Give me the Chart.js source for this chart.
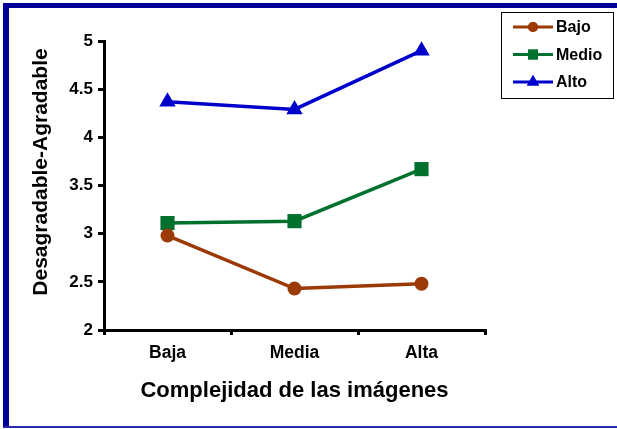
<!DOCTYPE html>
<html>
<head>
<meta charset="utf-8">
<script src="https://cdn.jsdelivr.net/npm/chart.js@4.4.0/dist/chart.umd.min.js"></script>
<style>
  body { margin: 0; background: #fff; }
  #wrap { position: relative; width: 617px; height: 429px; }
</style>
</head>
<body>
<div id="wrap"><canvas id="myChart" width="617" height="429"></canvas></div>
<script>
// categorias y valores
const categories = ['Baja', 'Media', 'Alta'];
const seriesNames = ['Bajo', 'Medio', 'Alto'];
const bajoValues = [2.98, 2.43, 2.48];
const medioValues = [3.11, 3.13, 3.67];
const altoValues = [4.37, 4.29, 4.90];
const yTicks = [2, 2.5, 3, 3.5, 4, 4.5, 5];

const colors = ['#9c3a06', '#00702e', '#0000cc'];
const pointStyles = ['circle', 'rect', 'triangle'];
const pointSizes = [7, 10, 9.5];
const legendSizes = [5, 7, 7];

const fontFamily = '"Liberation Sans", Arial, sans-serif';

// marco azul alrededor de la figura
const framePlugin = {
    id: 'frame',
    beforeDraw: function(chart) {
        const ctx = chart.ctx;
        ctx.save();
        ctx.fillStyle = '#fff';
        ctx.fillRect(0, 0, chart.width, chart.height);
        ctx.fillStyle = '#000099';
        ctx.fillRect(3, 3, chart.width - 3, 5);
        ctx.fillRect(3, 3, 6, chart.height - 4);
        ctx.fillStyle = '#2a2ab0';
        ctx.fillRect(3, 426, chart.width - 3, 2);
        ctx.restore();
    }
};

// leyenda con recuadro, linea y marcador
const boxLegend = {
    id: 'boxLegend',
    afterDraw: function(chart) {
        const ctx = chart.ctx;
        ctx.save();
        ctx.strokeStyle = '#000';
        ctx.lineWidth = 1;
        ctx.strokeRect(501.5, 12.5, 112, 86);
        chart.data.datasets.forEach(function(ds, i) {
            const y = 27 + i * 27.5;
            ctx.strokeStyle = ds.borderColor;
            ctx.lineWidth = 3;
            ctx.beginPath();
            ctx.moveTo(513, y);
            ctx.lineTo(553, y);
            ctx.stroke();
            ctx.fillStyle = ds.borderColor;
            Chart.helpers.drawPoint(ctx, {
                pointStyle: ds.pointStyle,
                radius: legendSizes[i],
                rotation: 0,
                borderWidth: 0
            }, 533, y);
            ctx.fill();
            ctx.fillStyle = '#000';
            ctx.font = 'bold 16px ' + fontFamily;
            ctx.textBaseline = 'middle';
            ctx.fillText(ds.label, 556, y + 1);
        });
        ctx.restore();
    }
};

// titulo del eje y, un poco por encima del centro
const yTitle = {
    id: 'yTitle',
    afterDraw: function(chart) {
        const ctx = chart.ctx;
        ctx.save();
        ctx.translate(41, 172);
        ctx.rotate(-Math.PI / 2);
        ctx.fillStyle = '#000';
        ctx.font = 'bold 21px ' + fontFamily;
        ctx.textAlign = 'center';
        ctx.textBaseline = 'middle';
        ctx.fillText('Desagradable-Agradable', 0, 0);
        ctx.restore();
    }
};

const seriesValues = [bajoValues, medioValues, altoValues];
const datasets = seriesNames.map(function(name, i) {
    return {
        label: name,
        data: seriesValues[i],
        borderColor: colors[i],
        backgroundColor: colors[i],
        borderWidth: 3.5,
        pointStyle: pointStyles[i],
        pointRadius: pointSizes[i],
        pointBorderWidth: 0,
        tension: 0
    };
});

const ctx = document.getElementById('myChart').getContext('2d');
new Chart(ctx, {
    type: 'line',
    data: { labels: categories, datasets: datasets },
    options: {
        responsive: false,
        animation: false,
        layout: { padding: { top: 41, right: 132, left: 0, bottom: 0 } },
        plugins: {
            legend: { display: false },
            tooltip: { enabled: false }
        },
        scales: {
            x: {
                offset: true,
                afterFit: function(scale) { scale.height = 99; },
                grid: {
                    offset: true,
                    drawOnChartArea: false,
                    color: '#000',
                    lineWidth: 3,
                    tickLength: 5
                },
                border: { color: '#000', width: 3 },
                ticks: {
                    color: '#000',
                    padding: 8,
                    font: { family: fontFamily, size: 17.5, weight: 'bold' }
                },
                title: {
                    display: true,
                    text: 'Complejidad de las imágenes',
                    color: '#000',
                    padding: { top: 0, bottom: 25 },
                    font: { family: fontFamily, size: 22, weight: 'bold' }
                }
            },
            y: {
                min: 2,
                max: 5,
                afterFit: function(scale) { scale.width = 104; },
                afterBuildTicks: function(scale) {
                    scale.ticks = yTicks.map(function(v) { return { value: v }; });
                },
                grid: {
                    drawOnChartArea: false,
                    color: '#000',
                    lineWidth: 3,
                    tickLength: 6
                },
                border: { color: '#000', width: 3 },
                ticks: {
                    color: '#000',
                    padding: 5,
                    font: { family: fontFamily, size: 17, weight: 'bold' },
                    callback: function(v) { return String(v); }
                }
            }
        }
    },
    plugins: [framePlugin, boxLegend, yTitle]
});
</script>
</body>
</html>
